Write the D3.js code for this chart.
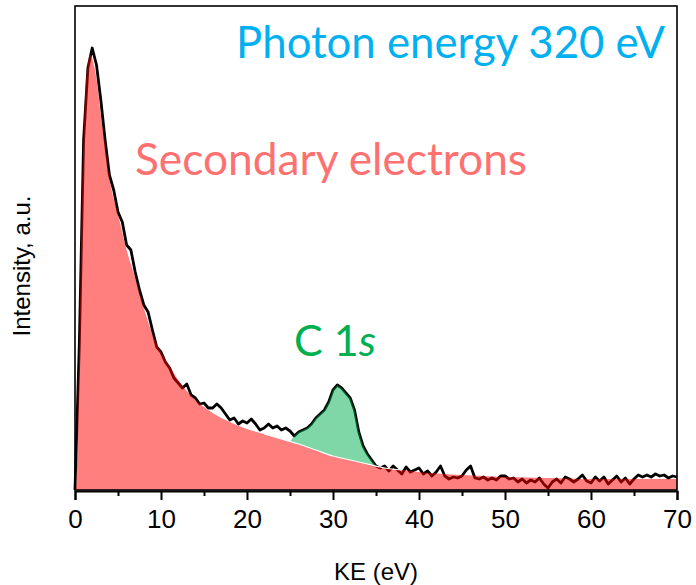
<!DOCTYPE html>
<html><head><meta charset="utf-8">
<script src="https://cdn.jsdelivr.net/npm/d3@7"></script>
<style>body{margin:0;background:#fff}svg{display:block}</style>
</head><body>
<script>
// ---- data ----
const keStart = 0, keStep = 0.5;
const spectrum = [
 0,145,350,422,442,425,390,350,315,300,278,268,245,240,218,200,185,178,160,143,
 138,128,122,112,107,102,106,95,92,86,87,82,82,86,82,76,70,72,66,69,
 67,71,66,60,62,66,62,64,60,62,59,54,58,60,62,66,72,76,80,88,
 100,105,102,97,92,80,58,44,36,30,24,22,24,19,24,20,16,23,18,20,
 22,16,19,14,18,24,14,11,13,12,14,20,24,12,11,13,10,12,10,14,
 14,11,12,8,11,7,10,8,12,6,2,8,11,7,13,11,8,11,15,9,
 7,13,9,13,6,10,14,8,12,6,11,15,13,15,13,16,14,15,12,14,13];
const bgKE = [0,0.2,0.5,0.8,1.1,1.4,1.8,2.2,2.6,3.0,3.5,4,5,6,7,8,9,10,11,12,13,14,15,16,17,18,20,22,24,26,28,30,32,34,36,38,40,45,50,55,60,70];
const bgI  = [0,10,140,290,380,420,435,425,405,375,345,312,276,240,212,182,156,138,124,110,99,90,83,77,72,68,61,56,51,46,40,34,30,26,22,20,18,15,13,12,11,11];
const c1sRange = [25, 35.5];
const xTicks = [0,10,20,30,40,50,60,70];
const xMinor = [5,15,25,35,45,55,65];
const labels = {x:"KE (eV)", y:"Intensity, a.u.", photon:"Photon energy 320 eV", sec:"Secondary electrons"};

// ---- layout ----
const W=696,H=585, L=75, R=677, T=6, B=490;
const svg=d3.select("body").append("svg").attr("width",W).attr("height",H);
const x=d3.scaleLinear().domain([0,70]).range([L,R]);
const y=d3.scaleLinear().domain([0,484]).range([B,T]);
const spec=spectrum.map((v,i)=>({ke:keStart+i*keStep, v}));
const bgPts=bgKE.map((k,i)=>({ke:k, v:bgI[i]}));
const bgAt=d3.scaleLinear().domain(bgKE).range(bgI);

// spectrum line (under the fills)
svg.append("path").datum(spec)
  .attr("d",d3.line().x(d=>x(d.ke)).y(d=>y(d.v)))
  .attr("fill","none").attr("stroke","#000").attr("stroke-width",2.8).attr("stroke-linejoin","round");

// secondary electron background
svg.append("path").datum(bgPts)
  .attr("d",d3.area().x(d=>x(d.ke)).y0(y(0)).y1(d=>y(d.v)).curve(d3.curveMonotoneX))
  .attr("fill","rgba(255,0,0,0.5)");

// C 1s
const green=[{ke:c1sRange[0], v:bgAt(c1sRange[0])}]
  .concat(spec.filter(d=>d.ke>c1sRange[0] && d.ke<c1sRange[1]).map(d=>({ke:d.ke, v:Math.max(d.v,bgAt(d.ke))})))
  .concat([{ke:c1sRange[1], v:bgAt(c1sRange[1])}]);
svg.append("path").datum(green)
  .attr("d",d3.area().x(d=>x(d.ke)).y0(d=>y(bgAt(d.ke))).y1(d=>y(d.v)))
  .attr("fill","rgba(0,176,80,0.5)");
svg.append("path").datum(bgPts.filter(d=>d.ke>=22&&d.ke<=38))
  .attr("d",d3.line().x(d=>x(d.ke)).y(d=>y(d.v)).curve(d3.curveMonotoneX))
  .attr("fill","none").attr("stroke","#fff").attr("stroke-width",1.2);

// frame
svg.append("rect").attr("x",L).attr("y",T).attr("width",R-L).attr("height",B-T)
  .attr("fill","none").attr("stroke","#000").attr("stroke-width",1.6);

// x axis
const ax=svg.append("g").attr("transform",`translate(0,${B+1})`)
  .call(d3.axisBottom(x).tickValues(xTicks).tickSize(9).tickPadding(10).tickFormat(d3.format("d")));
ax.select(".domain").attr("stroke-width",2);
ax.selectAll(".tick line").attr("stroke-width",2);
ax.selectAll("text").attr("font-family","Liberation Sans, Arial, sans-serif").attr("font-size",26).attr("fill","#000");
svg.append("g").attr("transform",`translate(0,${B+1})`)
  .call(d3.axisBottom(x).tickValues(xMinor).tickSize(5).tickFormat(""))
  .call(g=>g.select(".domain").remove())
  .selectAll(".tick line").attr("stroke-width",2);

svg.append("text").attr("x",(L+R)/2).attr("y",580).attr("text-anchor","middle")
  .attr("font-family","Liberation Sans, Arial, sans-serif").attr("font-size",24).text(labels.x);
svg.append("text").attr("transform","translate(30,266) rotate(-90)").attr("text-anchor","middle")
  .attr("font-family","Liberation Sans, Arial, sans-serif").attr("font-size",24).text(labels.y);

// annotations
function fit(sel,target){const n=sel.node();const w=n.getComputedTextLength();const fs=+sel.attr("font-size");sel.attr("font-size",fs*target/w);}
const ff="Lato, 'Open Sans', sans-serif";
const t1=svg.append("text").attr("x",665).attr("y",58).attr("text-anchor","end").attr("font-family",ff)
  .attr("font-size",44).attr("fill","#00B0F0").text(labels.photon); fit(t1,429);
const t2=svg.append("text").attr("x",135).attr("y",175).attr("font-family",ff)
  .attr("font-size",44).attr("fill","#FF7171").text(labels.sec); fit(t2,392);
const t3=svg.append("text").attr("x",294).attr("y",356).attr("font-family",ff)
  .attr("font-size",40).attr("fill","#00B050");
t3.append("tspan").text("C 1");
t3.append("tspan").attr("font-style","italic").text("s");
fit(t3,82);
</script>
</body></html>
